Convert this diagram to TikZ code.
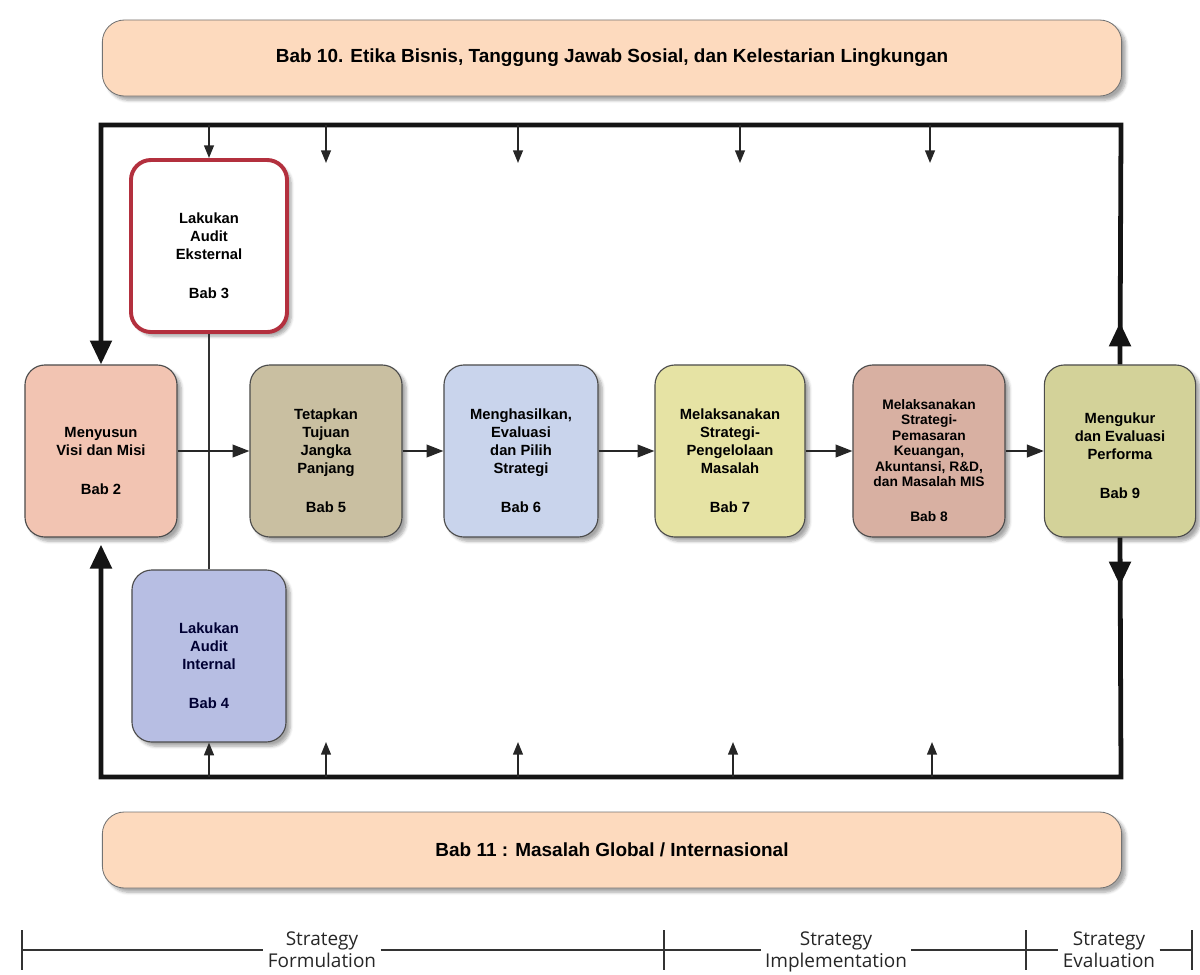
\documentclass[tikz,border=0pt]{standalone}
\usepackage{fontspec}
\setmainfont{Liberation Sans}
\newfontfamily\phasefont{Open Sans}
\usetikzlibrary{arrows.meta,shadows.blur,calc}

\definecolor{barfill}{HTML}{FDDABE}
\definecolor{visifill}{HTML}{F2C4B2}
\definecolor{internfill}{HTML}{B7BEE3}
\definecolor{tujuanfill}{HTML}{C9BFA1}
\definecolor{pilihfill}{HTML}{C9D4EC}
\definecolor{kelolafill}{HTML}{E6E3A4}
\definecolor{pasarfill}{HTML}{D8B0A2}
\definecolor{ukurfill}{HTML}{D3D299}
\definecolor{eksred}{HTML}{B3303E}

% extra room above the first text line, so the text sits a little low in its box
\newcommand\lowstart{\rule{0pt}{21pt}}

\begin{document}
\begin{tikzpicture}[x=0.025cm,y=-0.025cm,
  softshadow/.style={blur shadow={shadow xshift=3pt,shadow yshift=-3pt,shadow opacity=35,shadow blur steps=6}},
  stepbox/.style={rectangle,rounded corners=0.5cm,draw=black!70,line width=0.8pt,
    align=center,font=\fontsize{10.5}{12.8}\selectfont\bfseries,
    minimum height=4.3cm,inner sep=2pt,softshadow},
  bar/.style={rectangle,rounded corners=0.55cm,fill=barfill,draw=black!55,line width=0.6pt,
    minimum width=25.475cm,minimum height=1.9cm,softshadow},
  frameline/.style={line width=3.4pt,draw=black!92},
  bigtip/.style={-{Triangle[width=15pt,length=17pt]}},
  flow/.style={line width=1.4pt,draw=black!85,-{Triangle[width=9pt,length=12pt]}},
  feed/.style={line width=1.2pt,draw=black!85,-{Triangle[width=7pt,length=9pt]}},
  phaseline/.style={line width=1.3pt,draw=black!80},
  phase/.style={font=\phasefont\fontsize{13.5}{15.5}\selectfont,align=center,inner sep=3pt,text=black!85,anchor=north},
]
\useasboundingbox (0,0) rectangle (1200,974);

% chapter bars above and below the model
\node[bar] (etika) at (612,58)
  {\fontsize{13.5}{15}\selectfont\bfseries Bab 10. Etika Bisnis, Tanggung Jawab Sosial, dan Kelestarian Lingkungan};
\node[bar] (global) at (612,850)
  {\fontsize{13.5}{15}\selectfont\bfseries Bab 11 : Masalah Global / Internasional};

% process steps
\node[stepbox,fill=visifill,minimum width=3.8cm] (ms) at (101,451)
  {\lowstart Menyusun\\Visi dan Misi\\[15pt]Bab 2};
\node[stepbox,fill=white,draw=eksred,line width=2.8pt,minimum width=3.9cm] (ek) at (209,246)
  {\lowstart Lakukan\\Audit\\Eksternal\\[15pt]Bab 3};
\node[stepbox,fill=internfill,minimum width=3.85cm,text=black!80!blue] (in) at (209,656)
  {\lowstart Lakukan\\Audit\\Internal\\[15pt]Bab 4};
\node[stepbox,fill=tujuanfill,minimum width=3.8cm] (tp) at (326,451)
  {\lowstart Tetapkan\\Tujuan\\Jangka\\Panjang\\[15pt]Bab 5};
\node[stepbox,fill=pilihfill,minimum width=3.85cm] (mh) at (521,451)
  {\lowstart Menghasilkan,\\Evaluasi\\dan Pilih\\Strategi\\[15pt]Bab 6};
\node[stepbox,fill=kelolafill,minimum width=3.75cm] (m7) at (730,451)
  {\lowstart Melaksanakan\\Strategi-\\Pengelolaan\\Masalah\\[15pt]Bab 7};
\node[stepbox,fill=pasarfill,minimum width=3.8cm,font=\fontsize{9.8}{11}\selectfont\bfseries] (m8) at (929,451)
  {\lowstart Melaksanakan\\Strategi-\\Pemasaran\\Keuangan,\\Akuntansi, R\&D,\\dan Masalah MIS\\[14pt]Bab 8};
\node[stepbox,fill=ukurfill,minimum width=3.78cm] (mk) at (1120,451)
  {\rule{0pt}{14pt}Mengukur\\dan Evaluasi\\Performa\\[15pt]Bab 9};

% corners of the feedback frame
\coordinate (TL) at (101,125);
\coordinate (TR) at (1121,125);
\coordinate (BL) at (101,777);
\coordinate (BR) at (1121,777);

% main flow
\draw[line width=1pt,draw=black!80] (ek.south) -- (in.north);
\draw[flow] (ms.east) -- (tp.west);
\draw[flow] (tp.east) -- (mh.west);
\draw[flow] (mh.east) -- (m7.west);
\draw[flow] (m7.east) -- (m8.west);
\draw[flow] (m8.east) -- (mk.west);

% feedback frame
\draw[frameline,bigtip] (mk.north) -- (TR) -- (TL) -- (ms.north);
\draw[frameline,bigtip] (mk.north) -- ++(0,-42);
\draw[frameline,bigtip,shorten >=5pt] (mk.south) -- (BR) -- (BL) -- (ms.south);
\draw[frameline,bigtip] (mk.south) -- ++(0,48);

% influence of the chapter bars on the steps
\coordinate (ta1) at (ek.north |- TL);
\draw[feed] (ta1) -- (ek.north);
\foreach \xx [count=\i from 2] in {326,518,740,930}{
  \coordinate (ta\i) at (\xx,125);
  \coordinate (te\i) at (\xx,163);
  \draw[feed] (ta\i) -- (te\i);
}
\coordinate (ba1) at (in.south |- BL);
\draw[feed] (ba1) -- (in.south);
\foreach \xx [count=\i from 2] in {326,518,733,932}{
  \coordinate (ba\i) at (\xx,777);
  \coordinate (be\i) at (\xx,742);
  \draw[feed] (ba\i) -- (be\i);
}

% phases of strategic management
\coordinate (p0) at (22,950);
\coordinate (p1) at (664,950);
\coordinate (p2) at (1026,950);
\coordinate (p3) at (1192,950);
\node[phase] (fm) at (322,927) {Strategy\\Formulation};
\node[phase] (im) at (836,927) {Strategy\\Implementation};
\node[phase] (ev) at (1109,927) {Strategy\\Evaluation};
\draw[phaseline] (p0) -- (p0 -| fm.west);
\draw[phaseline] (p1 -| fm.east) -- (p1);
\draw[phaseline] (p1) -- (p1 -| im.west);
\draw[phaseline] (p2 -| im.east) -- (p2);
\draw[phaseline] (p2) -- (p2 -| ev.west);
\draw[phaseline] (p3 -| ev.east) -- (p3);
\foreach \p in {p0,p1,p2,p3}{
  \draw[phaseline] (\p) ++(0,-20) -- ++(0,40);
}
\end{tikzpicture}
\end{document}
